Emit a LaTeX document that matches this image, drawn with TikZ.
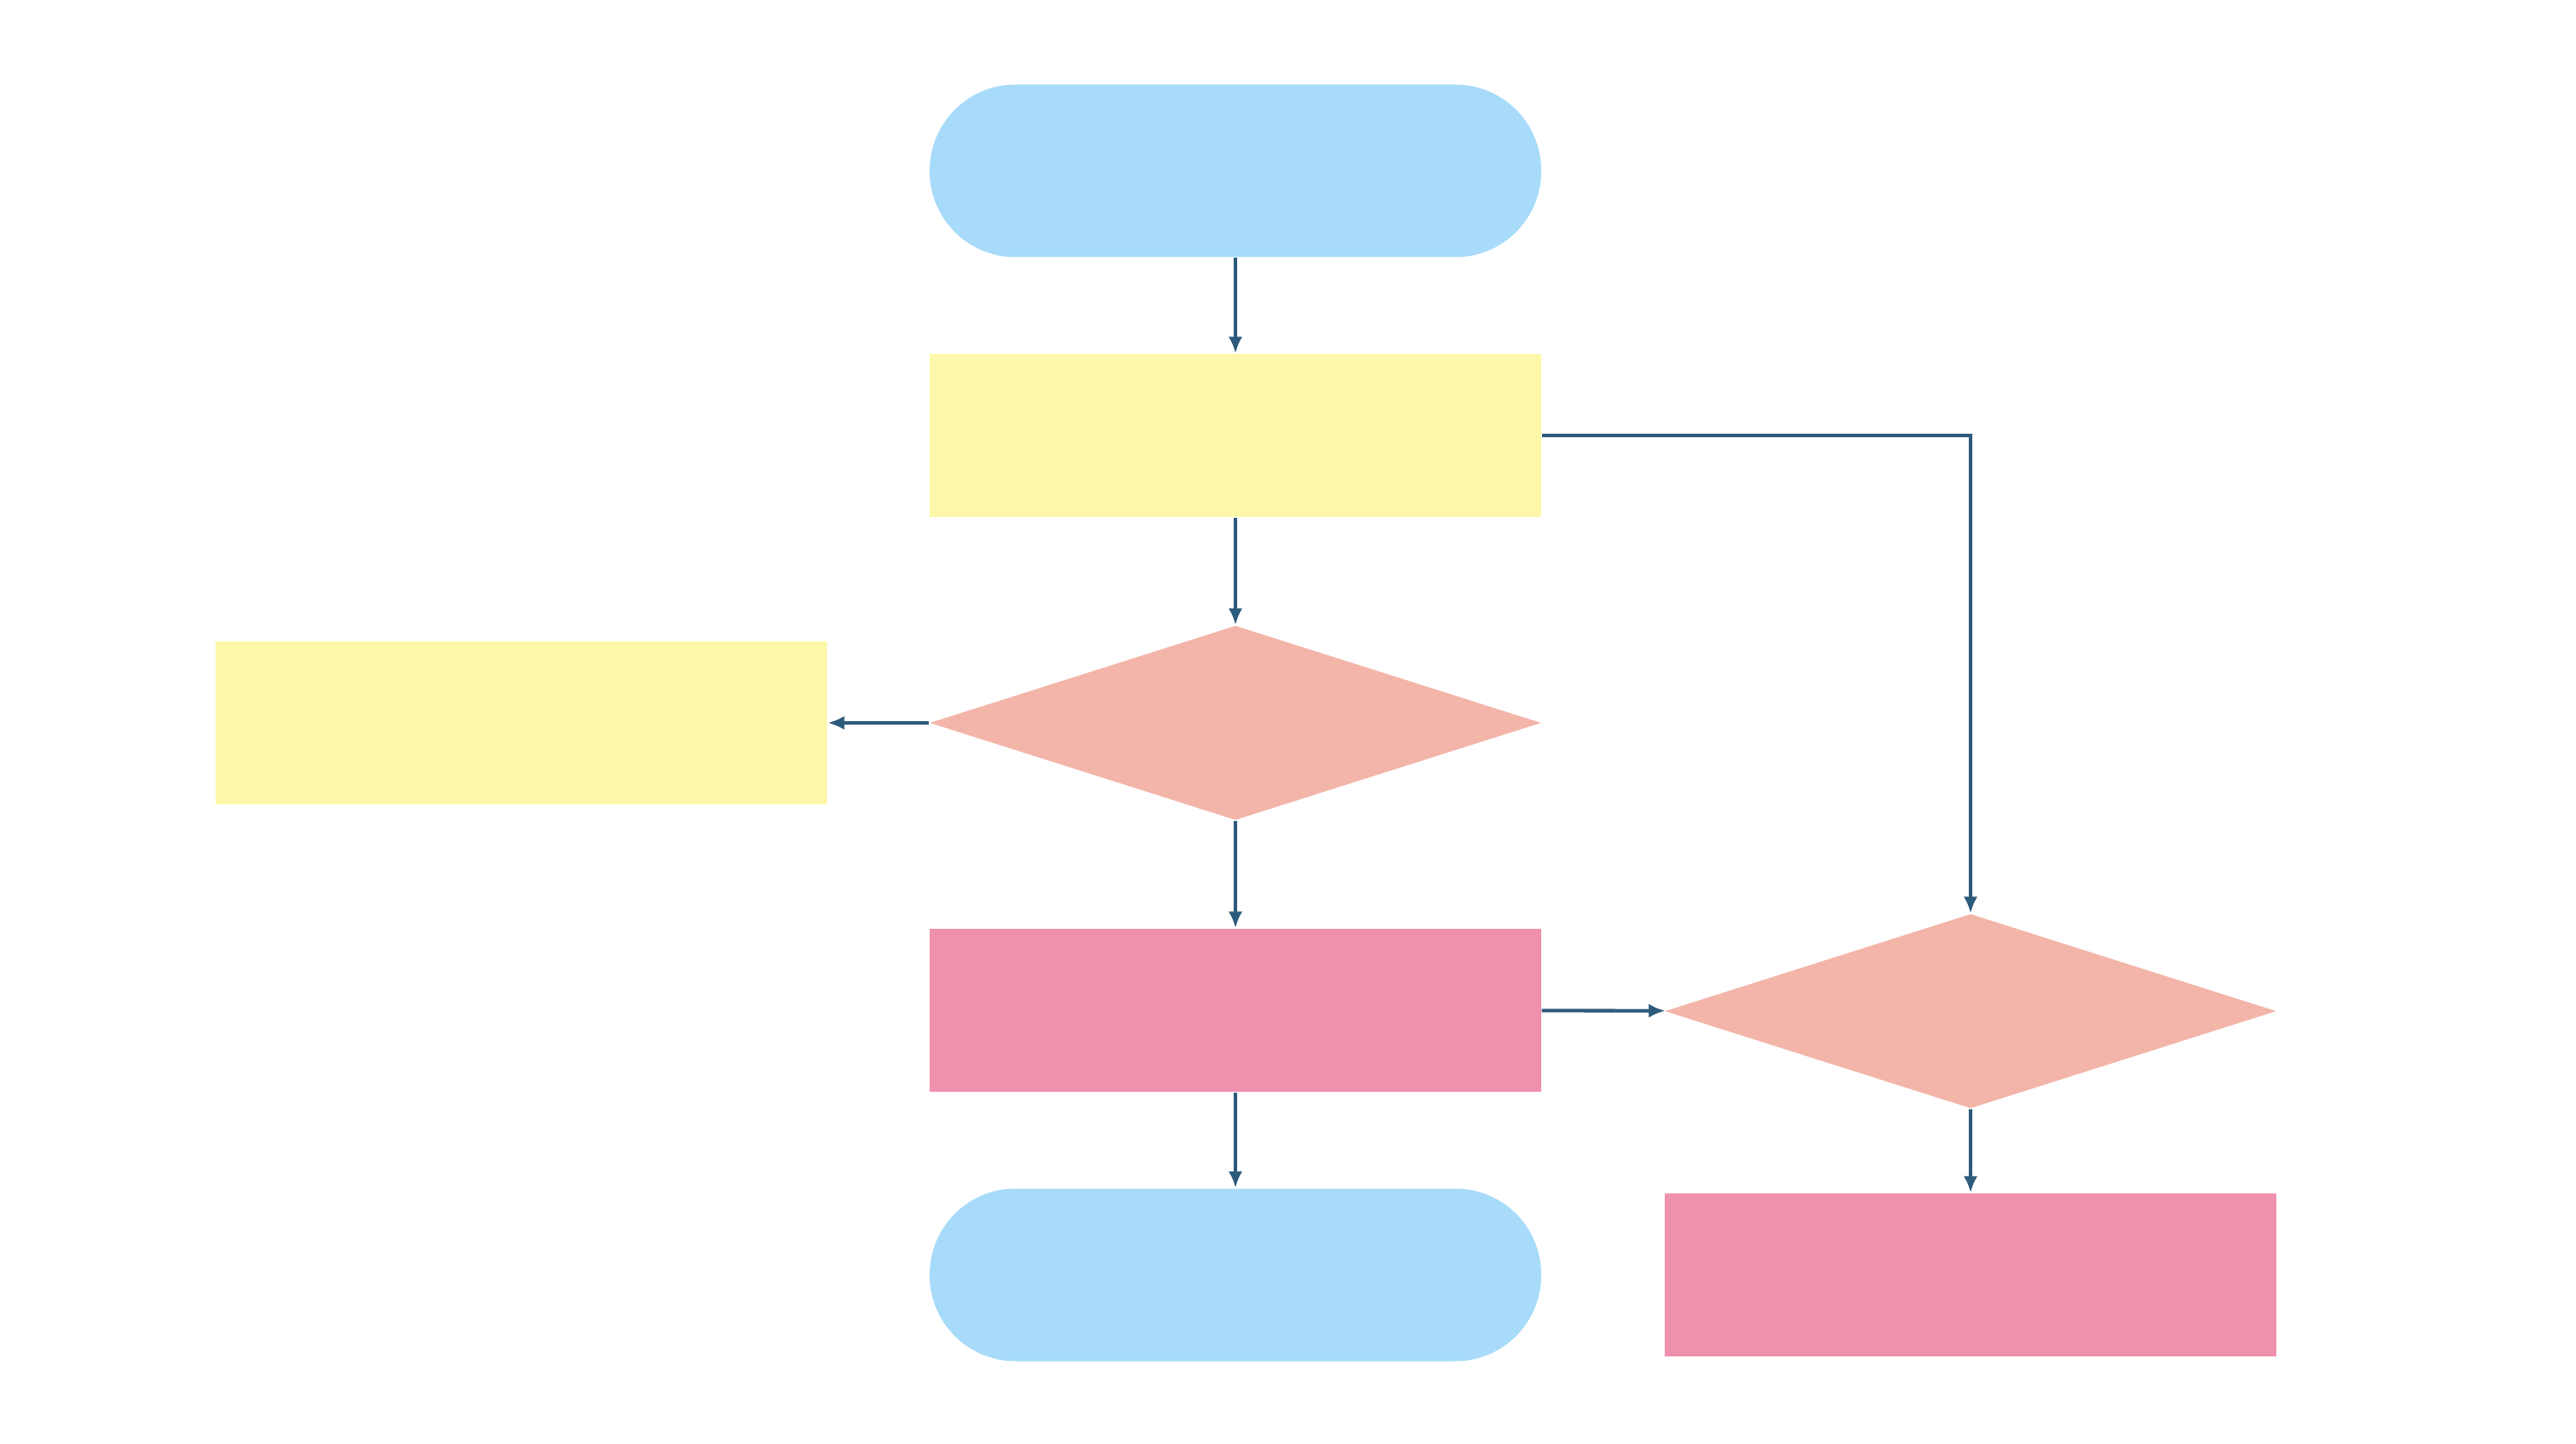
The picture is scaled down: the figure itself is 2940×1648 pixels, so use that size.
\documentclass[tikz,border=0pt]{standalone}
\usepackage{tikz}
\usetikzlibrary{arrows.meta,positioning,shapes.geometric}

\definecolor{termblue}{HTML}{A8DBFA}
\definecolor{procyellow}{HTML}{FDF8A9}
\definecolor{decsalmon}{HTML}{F3B5A9}
\definecolor{procpink}{HTML}{EF91AC}
\definecolor{flowline}{HTML}{2D5B7B}

\begin{document}
\begin{tikzpicture}[
  x=0.1mm, y=-0.1mm,
  terminal/.style={rectangle, rounded corners=9.8mm, fill=termblue, draw=none,
                   minimum width=69.8mm, minimum height=19.7mm, inner sep=0pt},
  process/.style ={rectangle, fill=procyellow, draw=none,
                   minimum width=69.8mm, minimum height=18.6mm, inner sep=0pt},
  action/.style  ={process, fill=procpink},
  decision/.style={diamond, aspect=3.14, fill=decsalmon, draw=none,
                   minimum width=69.8mm, minimum height=22.2mm, inner sep=0pt},
  flow/.style    ={draw=flowline, line width=1.15pt,
                   -{Latex[length=1.9mm, width=1.6mm]}}]

\useasboundingbox (0,0) rectangle (2940,1648);

% ==========================  main column  ============================
\node[terminal] (start) at (1410,195)  {};
\node[process]  (read)  at (1410,497)  {};
\node[decision] (check) at (1410,825)  {};
\node[action]   (work)  at (1410,1153) {};
\node[terminal] (stop)  at (1410,1455) {};

% ===========================  side boxes  ============================
\node[process]  (retry)  at (595,825)   {};
\node[decision] (verify) at (2249,1154) {};
\node[action]   (fix)    at (2249,1455) {};

% ============================  arrows  ===============================
\draw[flow] (start) -- (read);
\draw[flow] (read) -- (check);
\draw[flow] (check) -- (retry);
\draw[flow] (check) -- (work);
\draw[flow] (work) -- (stop);
\draw[flow] (work) -- (verify);
\draw[flow] (read.east) -| (verify.north);
\draw[flow] (verify) -- (fix);

\end{tikzpicture}
\end{document}
